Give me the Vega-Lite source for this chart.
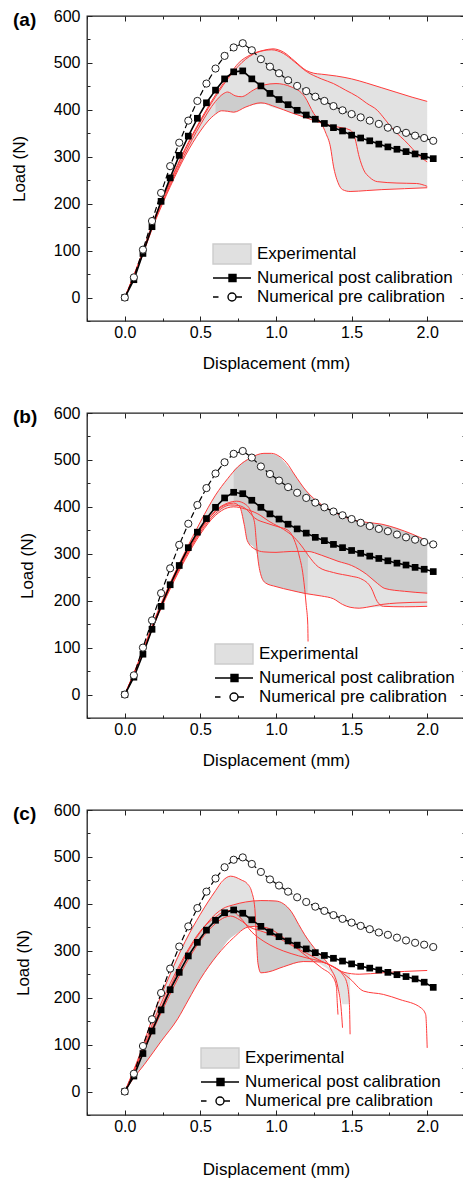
{
"$schema": "https://vega.github.io/schema/vega-lite/v6.json",
"padding": {"left": 10, "top": 7, "right": 0, "bottom": 0},
"spacing": 92,
"bounds": "flush",
"config": {
  "font": "Liberation Sans",
  "view": {"stroke": "#222", "strokeWidth": 1.3},
  "axis": {"labelFont": "Liberation Sans", "titleFont": "Liberation Sans", "labelFontSize": 16, "titleFontSize": 17, "titleFontWeight": "normal", "labelColor": "#000", "titleColor": "#000", "tickColor": "#222", "tickWidth": 1, "domain": false, "grid": false, "labelOverlap": false, "labelFlush": false},
  "legend": {"labelFont": "Liberation Sans"},
  "title": {"font": "Liberation Sans", "color": "#000"}
},
"datasets": {
"num": [
{"p":"a","s":"post","x":0,"y":0},{"p":"a","s":"post","x":0.06,"y":38},{"p":"a","s":"post","x":0.12,"y":94},{"p":"a","s":"post","x":0.18,"y":151},{"p":"a","s":"post","x":0.24,"y":205},{"p":"a","s":"post","x":0.3,"y":255},{"p":"a","s":"post","x":0.36,"y":303},{"p":"a","s":"post","x":0.42,"y":344},{"p":"a","s":"post","x":0.48,"y":382},{"p":"a","s":"post","x":0.54,"y":415},{"p":"a","s":"post","x":0.6,"y":442},{"p":"a","s":"post","x":0.66,"y":466},{"p":"a","s":"post","x":0.72,"y":481},{"p":"a","s":"post","x":0.78,"y":483},{"p":"a","s":"post","x":0.84,"y":466},{"p":"a","s":"post","x":0.9,"y":451},{"p":"a","s":"post","x":0.96,"y":435},{"p":"a","s":"post","x":1.02,"y":422},{"p":"a","s":"post","x":1.08,"y":411},{"p":"a","s":"post","x":1.14,"y":399},{"p":"a","s":"post","x":1.2,"y":389},{"p":"a","s":"post","x":1.26,"y":380},{"p":"a","s":"post","x":1.32,"y":371},{"p":"a","s":"post","x":1.38,"y":362},{"p":"a","s":"post","x":1.44,"y":355},{"p":"a","s":"post","x":1.5,"y":346},{"p":"a","s":"post","x":1.56,"y":340},{"p":"a","s":"post","x":1.62,"y":334},{"p":"a","s":"post","x":1.68,"y":327},{"p":"a","s":"post","x":1.74,"y":321},{"p":"a","s":"post","x":1.8,"y":316},{"p":"a","s":"post","x":1.86,"y":311},{"p":"a","s":"post","x":1.92,"y":306},{"p":"a","s":"post","x":1.98,"y":301},{"p":"a","s":"post","x":2.04,"y":296},
{"p":"a","s":"pre","x":0,"y":0},{"p":"a","s":"pre","x":0.06,"y":43},{"p":"a","s":"pre","x":0.12,"y":102},{"p":"a","s":"pre","x":0.18,"y":163},{"p":"a","s":"pre","x":0.24,"y":223},{"p":"a","s":"pre","x":0.3,"y":280},{"p":"a","s":"pre","x":0.36,"y":330},{"p":"a","s":"pre","x":0.42,"y":377},{"p":"a","s":"pre","x":0.48,"y":419},{"p":"a","s":"pre","x":0.54,"y":456},{"p":"a","s":"pre","x":0.6,"y":488},{"p":"a","s":"pre","x":0.66,"y":515},{"p":"a","s":"pre","x":0.72,"y":533},{"p":"a","s":"pre","x":0.78,"y":542},{"p":"a","s":"pre","x":0.84,"y":527},{"p":"a","s":"pre","x":0.9,"y":508},{"p":"a","s":"pre","x":0.96,"y":492},{"p":"a","s":"pre","x":1.02,"y":478},{"p":"a","s":"pre","x":1.08,"y":463},{"p":"a","s":"pre","x":1.14,"y":451},{"p":"a","s":"pre","x":1.2,"y":440},{"p":"a","s":"pre","x":1.26,"y":428},{"p":"a","s":"pre","x":1.32,"y":419},{"p":"a","s":"pre","x":1.38,"y":408},{"p":"a","s":"pre","x":1.44,"y":399},{"p":"a","s":"pre","x":1.5,"y":391},{"p":"a","s":"pre","x":1.56,"y":384},{"p":"a","s":"pre","x":1.62,"y":377},{"p":"a","s":"pre","x":1.68,"y":370},{"p":"a","s":"pre","x":1.74,"y":362},{"p":"a","s":"pre","x":1.8,"y":357},{"p":"a","s":"pre","x":1.86,"y":351},{"p":"a","s":"pre","x":1.92,"y":345},{"p":"a","s":"pre","x":1.98,"y":340},{"p":"a","s":"pre","x":2.04,"y":334},
{"p":"b","s":"post","x":0,"y":0},{"p":"b","s":"post","x":0.06,"y":37},{"p":"b","s":"post","x":0.12,"y":86},{"p":"b","s":"post","x":0.18,"y":139},{"p":"b","s":"post","x":0.24,"y":188},{"p":"b","s":"post","x":0.3,"y":234},{"p":"b","s":"post","x":0.36,"y":275},{"p":"b","s":"post","x":0.42,"y":313},{"p":"b","s":"post","x":0.48,"y":346},{"p":"b","s":"post","x":0.54,"y":375},{"p":"b","s":"post","x":0.6,"y":399},{"p":"b","s":"post","x":0.66,"y":419},{"p":"b","s":"post","x":0.72,"y":431},{"p":"b","s":"post","x":0.78,"y":428},{"p":"b","s":"post","x":0.84,"y":414},{"p":"b","s":"post","x":0.9,"y":399},{"p":"b","s":"post","x":0.96,"y":385},{"p":"b","s":"post","x":1.02,"y":374},{"p":"b","s":"post","x":1.08,"y":363},{"p":"b","s":"post","x":1.14,"y":353},{"p":"b","s":"post","x":1.2,"y":344},{"p":"b","s":"post","x":1.26,"y":335},{"p":"b","s":"post","x":1.32,"y":328},{"p":"b","s":"post","x":1.38,"y":320},{"p":"b","s":"post","x":1.44,"y":313},{"p":"b","s":"post","x":1.5,"y":307},{"p":"b","s":"post","x":1.56,"y":301},{"p":"b","s":"post","x":1.62,"y":295},{"p":"b","s":"post","x":1.68,"y":290},{"p":"b","s":"post","x":1.74,"y":285},{"p":"b","s":"post","x":1.8,"y":280},{"p":"b","s":"post","x":1.86,"y":276},{"p":"b","s":"post","x":1.92,"y":271},{"p":"b","s":"post","x":1.98,"y":267},{"p":"b","s":"post","x":2.04,"y":262},
{"p":"b","s":"pre","x":0,"y":0},{"p":"b","s":"pre","x":0.06,"y":41},{"p":"b","s":"pre","x":0.12,"y":100},{"p":"b","s":"pre","x":0.18,"y":158},{"p":"b","s":"pre","x":0.24,"y":216},{"p":"b","s":"pre","x":0.3,"y":269},{"p":"b","s":"pre","x":0.36,"y":319},{"p":"b","s":"pre","x":0.42,"y":364},{"p":"b","s":"pre","x":0.48,"y":404},{"p":"b","s":"pre","x":0.54,"y":440},{"p":"b","s":"pre","x":0.6,"y":471},{"p":"b","s":"pre","x":0.66,"y":495},{"p":"b","s":"pre","x":0.72,"y":513},{"p":"b","s":"pre","x":0.78,"y":519},{"p":"b","s":"pre","x":0.84,"y":505},{"p":"b","s":"pre","x":0.9,"y":486},{"p":"b","s":"pre","x":0.96,"y":470},{"p":"b","s":"pre","x":1.02,"y":456},{"p":"b","s":"pre","x":1.08,"y":442},{"p":"b","s":"pre","x":1.14,"y":430},{"p":"b","s":"pre","x":1.2,"y":419},{"p":"b","s":"pre","x":1.26,"y":409},{"p":"b","s":"pre","x":1.32,"y":399},{"p":"b","s":"pre","x":1.38,"y":390},{"p":"b","s":"pre","x":1.44,"y":382},{"p":"b","s":"pre","x":1.5,"y":374},{"p":"b","s":"pre","x":1.56,"y":366},{"p":"b","s":"pre","x":1.62,"y":359},{"p":"b","s":"pre","x":1.68,"y":353},{"p":"b","s":"pre","x":1.74,"y":348},{"p":"b","s":"pre","x":1.8,"y":341},{"p":"b","s":"pre","x":1.86,"y":335},{"p":"b","s":"pre","x":1.92,"y":330},{"p":"b","s":"pre","x":1.98,"y":325},{"p":"b","s":"pre","x":2.04,"y":320},
{"p":"c","s":"post","x":0,"y":0},{"p":"c","s":"post","x":0.06,"y":33},{"p":"c","s":"post","x":0.12,"y":81},{"p":"c","s":"post","x":0.18,"y":129},{"p":"c","s":"post","x":0.24,"y":174},{"p":"c","s":"post","x":0.3,"y":217},{"p":"c","s":"post","x":0.36,"y":254},{"p":"c","s":"post","x":0.42,"y":289},{"p":"c","s":"post","x":0.48,"y":318},{"p":"c","s":"post","x":0.54,"y":344},{"p":"c","s":"post","x":0.6,"y":365},{"p":"c","s":"post","x":0.66,"y":381},{"p":"c","s":"post","x":0.72,"y":387},{"p":"c","s":"post","x":0.78,"y":380},{"p":"c","s":"post","x":0.84,"y":366},{"p":"c","s":"post","x":0.9,"y":352},{"p":"c","s":"post","x":0.96,"y":340},{"p":"c","s":"post","x":1.02,"y":330},{"p":"c","s":"post","x":1.08,"y":321},{"p":"c","s":"post","x":1.14,"y":312},{"p":"c","s":"post","x":1.2,"y":304},{"p":"c","s":"post","x":1.26,"y":296},{"p":"c","s":"post","x":1.32,"y":290},{"p":"c","s":"post","x":1.38,"y":284},{"p":"c","s":"post","x":1.44,"y":278},{"p":"c","s":"post","x":1.5,"y":272},{"p":"c","s":"post","x":1.56,"y":267},{"p":"c","s":"post","x":1.62,"y":263},{"p":"c","s":"post","x":1.68,"y":259},{"p":"c","s":"post","x":1.74,"y":254},{"p":"c","s":"post","x":1.8,"y":249},{"p":"c","s":"post","x":1.86,"y":245},{"p":"c","s":"post","x":1.92,"y":240},{"p":"c","s":"post","x":1.98,"y":233},{"p":"c","s":"post","x":2.04,"y":222},
{"p":"c","s":"pre","x":0,"y":0},{"p":"c","s":"pre","x":0.06,"y":38},{"p":"c","s":"pre","x":0.12,"y":97},{"p":"c","s":"pre","x":0.18,"y":154},{"p":"c","s":"pre","x":0.24,"y":210},{"p":"c","s":"pre","x":0.3,"y":262},{"p":"c","s":"pre","x":0.36,"y":309},{"p":"c","s":"pre","x":0.42,"y":352},{"p":"c","s":"pre","x":0.48,"y":391},{"p":"c","s":"pre","x":0.54,"y":426},{"p":"c","s":"pre","x":0.6,"y":454},{"p":"c","s":"pre","x":0.66,"y":478},{"p":"c","s":"pre","x":0.72,"y":494},{"p":"c","s":"pre","x":0.78,"y":499},{"p":"c","s":"pre","x":0.84,"y":485},{"p":"c","s":"pre","x":0.9,"y":468},{"p":"c","s":"pre","x":0.96,"y":452},{"p":"c","s":"pre","x":1.02,"y":439},{"p":"c","s":"pre","x":1.08,"y":426},{"p":"c","s":"pre","x":1.14,"y":414},{"p":"c","s":"pre","x":1.2,"y":404},{"p":"c","s":"pre","x":1.26,"y":394},{"p":"c","s":"pre","x":1.32,"y":385},{"p":"c","s":"pre","x":1.38,"y":376},{"p":"c","s":"pre","x":1.44,"y":368},{"p":"c","s":"pre","x":1.5,"y":360},{"p":"c","s":"pre","x":1.56,"y":353},{"p":"c","s":"pre","x":1.62,"y":346},{"p":"c","s":"pre","x":1.68,"y":339},{"p":"c","s":"pre","x":1.74,"y":334},{"p":"c","s":"pre","x":1.8,"y":328},{"p":"c","s":"pre","x":1.86,"y":322},{"p":"c","s":"pre","x":1.92,"y":317},{"p":"c","s":"pre","x":1.98,"y":313},{"p":"c","s":"pre","x":2.04,"y":308}
],
"exp": [
{"p":"a","c":"1","x":0,"y":0},{"p":"a","c":"1","x":0.1,"y":82},{"p":"a","c":"1","x":0.2,"y":172},{"p":"a","c":"1","x":0.3,"y":248},{"p":"a","c":"1","x":0.4,"y":318},{"p":"a","c":"1","x":0.5,"y":378},{"p":"a","c":"1","x":0.6,"y":432},{"p":"a","c":"1","x":0.7,"y":478},{"p":"a","c":"1","x":0.75,"y":499},{"p":"a","c":"1","x":0.83,"y":517},{"p":"a","c":"1","x":0.92,"y":527},{"p":"a","c":"1","x":0.98,"y":530},{"p":"a","c":"1","x":1.05,"y":523},{"p":"a","c":"1","x":1.12,"y":505},{"p":"a","c":"1","x":1.2,"y":484},{"p":"a","c":"1","x":1.25,"y":478},{"p":"a","c":"1","x":1.3,"y":476},{"p":"a","c":"1","x":1.4,"y":472},{"p":"a","c":"1","x":1.5,"y":466},{"p":"a","c":"1","x":1.6,"y":457},{"p":"a","c":"1","x":1.7,"y":447},{"p":"a","c":"1","x":1.8,"y":437},{"p":"a","c":"1","x":1.9,"y":427},{"p":"a","c":"1","x":2.0,"y":418},
{"p":"a","c":"2","x":0,"y":0},{"p":"a","c":"2","x":0.1,"y":80},{"p":"a","c":"2","x":0.2,"y":170},{"p":"a","c":"2","x":0.3,"y":245},{"p":"a","c":"2","x":0.4,"y":315},{"p":"a","c":"2","x":0.5,"y":375},{"p":"a","c":"2","x":0.6,"y":428},{"p":"a","c":"2","x":0.7,"y":474},{"p":"a","c":"2","x":0.8,"y":508},{"p":"a","c":"2","x":0.9,"y":525},{"p":"a","c":"2","x":0.97,"y":528},{"p":"a","c":"2","x":1.05,"y":520},{"p":"a","c":"2","x":1.12,"y":503},{"p":"a","c":"2","x":1.2,"y":482},{"p":"a","c":"2","x":1.3,"y":466},{"p":"a","c":"2","x":1.38,"y":456},{"p":"a","c":"2","x":1.46,"y":442},{"p":"a","c":"2","x":1.54,"y":428},{"p":"a","c":"2","x":1.6,"y":414},{"p":"a","c":"2","x":1.67,"y":399},{"p":"a","c":"2","x":1.72,"y":380},{"p":"a","c":"2","x":1.76,"y":364},{"p":"a","c":"2","x":1.8,"y":350},{"p":"a","c":"2","x":1.85,"y":335},{"p":"a","c":"2","x":1.9,"y":318},{"p":"a","c":"2","x":1.93,"y":307},{"p":"a","c":"2","x":2.0,"y":289},
{"p":"a","c":"3","x":0,"y":0},{"p":"a","c":"3","x":0.1,"y":78},{"p":"a","c":"3","x":0.2,"y":165},{"p":"a","c":"3","x":0.3,"y":240},{"p":"a","c":"3","x":0.4,"y":308},{"p":"a","c":"3","x":0.5,"y":368},{"p":"a","c":"3","x":0.6,"y":418},{"p":"a","c":"3","x":0.65,"y":434},{"p":"a","c":"3","x":0.68,"y":438},{"p":"a","c":"3","x":0.73,"y":430},{"p":"a","c":"3","x":0.77,"y":428},{"p":"a","c":"3","x":0.85,"y":442},{"p":"a","c":"3","x":0.92,"y":453},{"p":"a","c":"3","x":1.0,"y":456},{"p":"a","c":"3","x":1.1,"y":449},{"p":"a","c":"3","x":1.19,"y":428},{"p":"a","c":"3","x":1.25,"y":392},{"p":"a","c":"3","x":1.3,"y":371},{"p":"a","c":"3","x":1.33,"y":350},{"p":"a","c":"3","x":1.36,"y":321},{"p":"a","c":"3","x":1.38,"y":280},{"p":"a","c":"3","x":1.41,"y":245},{"p":"a","c":"3","x":1.44,"y":230},{"p":"a","c":"3","x":1.49,"y":226},{"p":"a","c":"3","x":1.6,"y":228},{"p":"a","c":"3","x":1.7,"y":230},{"p":"a","c":"3","x":1.85,"y":232},{"p":"a","c":"3","x":2.0,"y":234},
{"p":"a","c":"4","x":0,"y":0},{"p":"a","c":"4","x":0.1,"y":76},{"p":"a","c":"4","x":0.2,"y":162},{"p":"a","c":"4","x":0.3,"y":236},{"p":"a","c":"4","x":0.4,"y":302},{"p":"a","c":"4","x":0.5,"y":355},{"p":"a","c":"4","x":0.55,"y":376},{"p":"a","c":"4","x":0.6,"y":391},{"p":"a","c":"4","x":0.64,"y":398},{"p":"a","c":"4","x":0.68,"y":397},{"p":"a","c":"4","x":0.72,"y":395},{"p":"a","c":"4","x":0.8,"y":406},{"p":"a","c":"4","x":0.9,"y":415},{"p":"a","c":"4","x":1.0,"y":406},{"p":"a","c":"4","x":1.1,"y":394},{"p":"a","c":"4","x":1.2,"y":383},{"p":"a","c":"4","x":1.3,"y":372},{"p":"a","c":"4","x":1.4,"y":364},{"p":"a","c":"4","x":1.49,"y":357},{"p":"a","c":"4","x":1.52,"y":342},{"p":"a","c":"4","x":1.55,"y":300},{"p":"a","c":"4","x":1.58,"y":272},{"p":"a","c":"4","x":1.62,"y":256},{"p":"a","c":"4","x":1.67,"y":247},{"p":"a","c":"4","x":1.8,"y":244},{"p":"a","c":"4","x":1.93,"y":243},{"p":"a","c":"4","x":2.0,"y":237},
{"p":"b","c":"1","x":0,"y":0},{"p":"b","c":"1","x":0.1,"y":78},{"p":"b","c":"1","x":0.2,"y":163},{"p":"b","c":"1","x":0.3,"y":238},{"p":"b","c":"1","x":0.4,"y":305},{"p":"b","c":"1","x":0.5,"y":368},{"p":"b","c":"1","x":0.6,"y":425},{"p":"b","c":"1","x":0.68,"y":460},{"p":"b","c":"1","x":0.75,"y":486},{"p":"b","c":"1","x":0.83,"y":504},{"p":"b","c":"1","x":0.92,"y":514},{"p":"b","c":"1","x":0.97,"y":514},{"p":"b","c":"1","x":1.02,"y":508},{"p":"b","c":"1","x":1.07,"y":494},{"p":"b","c":"1","x":1.12,"y":470},{"p":"b","c":"1","x":1.2,"y":434},{"p":"b","c":"1","x":1.3,"y":405},{"p":"b","c":"1","x":1.4,"y":386},{"p":"b","c":"1","x":1.5,"y":373},{"p":"b","c":"1","x":1.6,"y":367},{"p":"b","c":"1","x":1.7,"y":363},{"p":"b","c":"1","x":1.8,"y":354},{"p":"b","c":"1","x":1.9,"y":342},{"p":"b","c":"1","x":2.0,"y":328},
{"p":"b","c":"2","x":0,"y":0},{"p":"b","c":"2","x":0.1,"y":76},{"p":"b","c":"2","x":0.2,"y":160},{"p":"b","c":"2","x":0.3,"y":233},{"p":"b","c":"2","x":0.4,"y":298},{"p":"b","c":"2","x":0.5,"y":352},{"p":"b","c":"2","x":0.6,"y":390},{"p":"b","c":"2","x":0.67,"y":405},{"p":"b","c":"2","x":0.72,"y":408},{"p":"b","c":"2","x":0.76,"y":400},{"p":"b","c":"2","x":0.79,"y":362},{"p":"b","c":"2","x":0.81,"y":328},{"p":"b","c":"2","x":0.86,"y":310},{"p":"b","c":"2","x":0.92,"y":304},{"p":"b","c":"2","x":1.0,"y":303},{"p":"b","c":"2","x":1.1,"y":305},{"p":"b","c":"2","x":1.21,"y":305},{"p":"b","c":"2","x":1.3,"y":297},{"p":"b","c":"2","x":1.41,"y":284},{"p":"b","c":"2","x":1.5,"y":275},{"p":"b","c":"2","x":1.6,"y":256},{"p":"b","c":"2","x":1.67,"y":237},{"p":"b","c":"2","x":1.72,"y":226},{"p":"b","c":"2","x":1.85,"y":220},{"p":"b","c":"2","x":2.0,"y":216},
{"p":"b","c":"3","x":0,"y":0},{"p":"b","c":"3","x":0.1,"y":75},{"p":"b","c":"3","x":0.2,"y":158},{"p":"b","c":"3","x":0.3,"y":230},{"p":"b","c":"3","x":0.4,"y":295},{"p":"b","c":"3","x":0.5,"y":350},{"p":"b","c":"3","x":0.6,"y":392},{"p":"b","c":"3","x":0.68,"y":408},{"p":"b","c":"3","x":0.74,"y":412},{"p":"b","c":"3","x":0.8,"y":405},{"p":"b","c":"3","x":0.84,"y":385},{"p":"b","c":"3","x":0.86,"y":362},{"p":"b","c":"3","x":0.87,"y":325},{"p":"b","c":"3","x":0.88,"y":291},{"p":"b","c":"3","x":0.9,"y":255},{"p":"b","c":"3","x":0.93,"y":238},{"p":"b","c":"3","x":1.0,"y":230},{"p":"b","c":"3","x":1.1,"y":222},{"p":"b","c":"3","x":1.2,"y":215},{"p":"b","c":"3","x":1.3,"y":210},{"p":"b","c":"3","x":1.38,"y":204},{"p":"b","c":"3","x":1.44,"y":192},{"p":"b","c":"3","x":1.49,"y":186},{"p":"b","c":"3","x":1.55,"y":184},{"p":"b","c":"3","x":1.6,"y":186},{"p":"b","c":"3","x":1.7,"y":192},{"p":"b","c":"3","x":1.8,"y":195},{"p":"b","c":"3","x":2.0,"y":197},
{"p":"b","c":"4","x":0,"y":0},{"p":"b","c":"4","x":0.1,"y":74},{"p":"b","c":"4","x":0.2,"y":156},{"p":"b","c":"4","x":0.3,"y":228},{"p":"b","c":"4","x":0.4,"y":292},{"p":"b","c":"4","x":0.5,"y":346},{"p":"b","c":"4","x":0.6,"y":386},{"p":"b","c":"4","x":0.7,"y":404},{"p":"b","c":"4","x":0.75,"y":403},{"p":"b","c":"4","x":0.8,"y":396},{"p":"b","c":"4","x":0.86,"y":376},{"p":"b","c":"4","x":0.94,"y":365},{"p":"b","c":"4","x":1.02,"y":357},{"p":"b","c":"4","x":1.08,"y":350},{"p":"b","c":"4","x":1.12,"y":330},{"p":"b","c":"4","x":1.15,"y":300},{"p":"b","c":"4","x":1.18,"y":252},{"p":"b","c":"4","x":1.2,"y":190},{"p":"b","c":"4","x":1.21,"y":150},{"p":"b","c":"4","x":1.212,"y":113},
{"p":"b","c":"5","x":0,"y":0},{"p":"b","c":"5","x":0.1,"y":73},{"p":"b","c":"5","x":0.2,"y":154},{"p":"b","c":"5","x":0.3,"y":225},{"p":"b","c":"5","x":0.4,"y":288},{"p":"b","c":"5","x":0.5,"y":342},{"p":"b","c":"5","x":0.6,"y":382},{"p":"b","c":"5","x":0.68,"y":398},{"p":"b","c":"5","x":0.72,"y":400},{"p":"b","c":"5","x":0.8,"y":395},{"p":"b","c":"5","x":0.88,"y":385},{"p":"b","c":"5","x":0.96,"y":368},{"p":"b","c":"5","x":1.05,"y":352},{"p":"b","c":"5","x":1.12,"y":335},{"p":"b","c":"5","x":1.18,"y":312},{"p":"b","c":"5","x":1.21,"y":298},{"p":"b","c":"5","x":1.28,"y":272},{"p":"b","c":"5","x":1.38,"y":260},{"p":"b","c":"5","x":1.5,"y":252},{"p":"b","c":"5","x":1.56,"y":247},{"p":"b","c":"5","x":1.63,"y":227},{"p":"b","c":"5","x":1.67,"y":198},{"p":"b","c":"5","x":1.71,"y":188},{"p":"b","c":"5","x":1.85,"y":187},{"p":"b","c":"5","x":2.0,"y":188},
{"p":"c","c":"1","x":0,"y":0},{"p":"c","c":"1","x":0.1,"y":80},{"p":"c","c":"1","x":0.2,"y":172},{"p":"c","c":"1","x":0.3,"y":250},{"p":"c","c":"1","x":0.4,"y":320},{"p":"c","c":"1","x":0.5,"y":378},{"p":"c","c":"1","x":0.6,"y":428},{"p":"c","c":"1","x":0.65,"y":450},{"p":"c","c":"1","x":0.7,"y":459},{"p":"c","c":"1","x":0.77,"y":451},{"p":"c","c":"1","x":0.81,"y":443},{"p":"c","c":"1","x":0.84,"y":425},{"p":"c","c":"1","x":0.86,"y":390},{"p":"c","c":"1","x":0.87,"y":330},{"p":"c","c":"1","x":0.88,"y":275},{"p":"c","c":"1","x":0.9,"y":253},{"p":"c","c":"1","x":0.95,"y":255},{"p":"c","c":"1","x":1.05,"y":266},{"p":"c","c":"1","x":1.18,"y":277},{"p":"c","c":"1","x":1.3,"y":276},{"p":"c","c":"1","x":1.38,"y":266},{"p":"c","c":"1","x":1.45,"y":254},{"p":"c","c":"1","x":1.55,"y":250},{"p":"c","c":"1","x":1.7,"y":253},{"p":"c","c":"1","x":1.85,"y":256},{"p":"c","c":"1","x":2.0,"y":258},
{"p":"c","c":"2","x":0,"y":0},{"p":"c","c":"2","x":0.1,"y":72},{"p":"c","c":"2","x":0.2,"y":150},{"p":"c","c":"2","x":0.3,"y":222},{"p":"c","c":"2","x":0.4,"y":288},{"p":"c","c":"2","x":0.5,"y":340},{"p":"c","c":"2","x":0.6,"y":378},{"p":"c","c":"2","x":0.65,"y":390},{"p":"c","c":"2","x":0.72,"y":398},{"p":"c","c":"2","x":0.8,"y":404},{"p":"c","c":"2","x":0.9,"y":407},{"p":"c","c":"2","x":1.0,"y":406},{"p":"c","c":"2","x":1.05,"y":400},{"p":"c","c":"2","x":1.1,"y":384},{"p":"c","c":"2","x":1.15,"y":356},{"p":"c","c":"2","x":1.19,"y":334},{"p":"c","c":"2","x":1.27,"y":299},{"p":"c","c":"2","x":1.36,"y":263},{"p":"c","c":"2","x":1.41,"y":221},{"p":"c","c":"2","x":1.43,"y":180},{"p":"c","c":"2","x":1.44,"y":136},
{"p":"c","c":"3","x":0,"y":0},{"p":"c","c":"3","x":0.05,"y":25},{"p":"c","c":"3","x":0.13,"y":58},{"p":"c","c":"3","x":0.24,"y":107},{"p":"c","c":"3","x":0.35,"y":155},{"p":"c","c":"3","x":0.42,"y":195},{"p":"c","c":"3","x":0.5,"y":240},{"p":"c","c":"3","x":0.61,"y":290},{"p":"c","c":"3","x":0.72,"y":328},{"p":"c","c":"3","x":0.81,"y":350},{"p":"c","c":"3","x":0.86,"y":352},{"p":"c","c":"3","x":0.94,"y":349},{"p":"c","c":"3","x":1.05,"y":328},{"p":"c","c":"3","x":1.16,"y":299},{"p":"c","c":"3","x":1.3,"y":264},{"p":"c","c":"3","x":1.38,"y":242},{"p":"c","c":"3","x":1.4,"y":222},{"p":"c","c":"3","x":1.405,"y":190},{"p":"c","c":"3","x":1.41,"y":164},
{"p":"c","c":"4","x":0,"y":0},{"p":"c","c":"4","x":0.1,"y":68},{"p":"c","c":"4","x":0.2,"y":140},{"p":"c","c":"4","x":0.3,"y":208},{"p":"c","c":"4","x":0.4,"y":270},{"p":"c","c":"4","x":0.5,"y":322},{"p":"c","c":"4","x":0.6,"y":358},{"p":"c","c":"4","x":0.66,"y":371},{"p":"c","c":"4","x":0.7,"y":374},{"p":"c","c":"4","x":0.76,"y":366},{"p":"c","c":"4","x":0.83,"y":350},{"p":"c","c":"4","x":0.92,"y":340},{"p":"c","c":"4","x":1.0,"y":330},{"p":"c","c":"4","x":1.1,"y":312},{"p":"c","c":"4","x":1.2,"y":295},{"p":"c","c":"4","x":1.3,"y":278},{"p":"c","c":"4","x":1.38,"y":265},{"p":"c","c":"4","x":1.44,"y":250},{"p":"c","c":"4","x":1.47,"y":230},{"p":"c","c":"4","x":1.485,"y":190},{"p":"c","c":"4","x":1.49,"y":122},
{"p":"c","c":"5","x":0,"y":0},{"p":"c","c":"5","x":0.1,"y":75},{"p":"c","c":"5","x":0.2,"y":158},{"p":"c","c":"5","x":0.3,"y":230},{"p":"c","c":"5","x":0.4,"y":292},{"p":"c","c":"5","x":0.5,"y":342},{"p":"c","c":"5","x":0.6,"y":372},{"p":"c","c":"5","x":0.66,"y":384},{"p":"c","c":"5","x":0.7,"y":386},{"p":"c","c":"5","x":0.76,"y":372},{"p":"c","c":"5","x":0.84,"y":340},{"p":"c","c":"5","x":0.92,"y":320},{"p":"c","c":"5","x":1.0,"y":306},{"p":"c","c":"5","x":1.1,"y":294},{"p":"c","c":"5","x":1.2,"y":285},{"p":"c","c":"5","x":1.3,"y":277},{"p":"c","c":"5","x":1.4,"y":262},{"p":"c","c":"5","x":1.49,"y":240},{"p":"c","c":"5","x":1.58,"y":214},{"p":"c","c":"5","x":1.71,"y":207},{"p":"c","c":"5","x":1.82,"y":196},{"p":"c","c":"5","x":1.96,"y":178},{"p":"c","c":"5","x":1.99,"y":164},{"p":"c","c":"5","x":2.0,"y":93}
],
"band": [
{"p":"a","b":"light","x":0,"lo":0,"hi":0},{"p":"a","b":"light","x":0.1,"lo":76,"hi":82},{"p":"a","b":"light","x":0.2,"lo":162,"hi":172},{"p":"a","b":"light","x":0.3,"lo":236,"hi":248},{"p":"a","b":"light","x":0.4,"lo":302,"hi":318},{"p":"a","b":"light","x":0.5,"lo":355,"hi":378},{"p":"a","b":"light","x":0.6,"lo":391,"hi":432},{"p":"a","b":"light","x":0.64,"lo":398,"hi":452},{"p":"a","b":"light","x":0.7,"lo":396,"hi":478},{"p":"a","b":"light","x":0.75,"lo":400,"hi":499},{"p":"a","b":"light","x":0.83,"lo":409,"hi":517},{"p":"a","b":"light","x":0.9,"lo":415,"hi":525},{"p":"a","b":"light","x":0.98,"lo":405,"hi":530},{"p":"a","b":"light","x":1.05,"lo":400,"hi":523},{"p":"a","b":"light","x":1.12,"lo":392,"hi":505},{"p":"a","b":"light","x":1.2,"lo":383,"hi":484},{"p":"a","b":"light","x":1.25,"lo":377,"hi":478},{"p":"a","b":"light","x":1.3,"lo":371,"hi":476},{"p":"a","b":"light","x":1.33,"lo":350,"hi":475},{"p":"a","b":"light","x":1.36,"lo":321,"hi":474},{"p":"a","b":"light","x":1.38,"lo":280,"hi":473},{"p":"a","b":"light","x":1.41,"lo":245,"hi":472},{"p":"a","b":"light","x":1.44,"lo":230,"hi":470},{"p":"a","b":"light","x":1.49,"lo":226,"hi":467},{"p":"a","b":"light","x":1.6,"lo":228,"hi":457},{"p":"a","b":"light","x":1.7,"lo":230,"hi":447},{"p":"a","b":"light","x":1.8,"lo":232,"hi":437},{"p":"a","b":"light","x":1.9,"lo":233,"hi":427},{"p":"a","b":"light","x":2.0,"lo":234,"hi":418},
{"p":"a","b":"dark","x":0.6,"lo":391,"hi":418},{"p":"a","b":"dark","x":0.64,"lo":398,"hi":432},{"p":"a","b":"dark","x":0.68,"lo":397,"hi":438},{"p":"a","b":"dark","x":0.72,"lo":395,"hi":431},{"p":"a","b":"dark","x":0.77,"lo":402,"hi":428},{"p":"a","b":"dark","x":0.85,"lo":411,"hi":442},{"p":"a","b":"dark","x":0.92,"lo":413,"hi":453},{"p":"a","b":"dark","x":1.0,"lo":406,"hi":456},{"p":"a","b":"dark","x":1.1,"lo":394,"hi":449},{"p":"a","b":"dark","x":1.19,"lo":384,"hi":428},{"p":"a","b":"dark","x":1.25,"lo":377,"hi":392},{"p":"a","b":"dark","x":1.3,"lo":371,"hi":371},
{"p":"b","b":"light","x":0,"lo":0,"hi":0},{"p":"b","b":"light","x":0.1,"lo":73,"hi":78},{"p":"b","b":"light","x":0.2,"lo":154,"hi":163},{"p":"b","b":"light","x":0.3,"lo":225,"hi":238},{"p":"b","b":"light","x":0.4,"lo":288,"hi":305},{"p":"b","b":"light","x":0.5,"lo":342,"hi":368},{"p":"b","b":"light","x":0.6,"lo":382,"hi":425},{"p":"b","b":"light","x":0.68,"lo":398,"hi":460},{"p":"b","b":"light","x":0.75,"lo":400,"hi":486},{"p":"b","b":"light","x":0.8,"lo":395,"hi":500},{"p":"b","b":"light","x":0.84,"lo":385,"hi":506},{"p":"b","b":"light","x":0.87,"lo":325,"hi":510},{"p":"b","b":"light","x":0.88,"lo":291,"hi":511},{"p":"b","b":"light","x":0.9,"lo":255,"hi":513},{"p":"b","b":"light","x":0.93,"lo":238,"hi":514},{"p":"b","b":"light","x":1.0,"lo":230,"hi":510},{"p":"b","b":"light","x":1.1,"lo":222,"hi":478},{"p":"b","b":"light","x":1.2,"lo":215,"hi":434},{"p":"b","b":"light","x":1.3,"lo":210,"hi":405},{"p":"b","b":"light","x":1.38,"lo":204,"hi":390},{"p":"b","b":"light","x":1.44,"lo":192,"hi":380},{"p":"b","b":"light","x":1.49,"lo":186,"hi":374},{"p":"b","b":"light","x":1.55,"lo":184,"hi":370},{"p":"b","b":"light","x":1.6,"lo":186,"hi":367},{"p":"b","b":"light","x":1.67,"lo":186,"hi":364},{"p":"b","b":"light","x":1.71,"lo":188,"hi":362},{"p":"b","b":"light","x":1.8,"lo":187,"hi":354},{"p":"b","b":"light","x":1.9,"lo":187,"hi":342},{"p":"b","b":"light","x":2.0,"lo":188,"hi":328},
{"p":"b","b":"dark","x":0.72,"lo":408,"hi":478},{"p":"b","b":"dark","x":0.76,"lo":400,"hi":489},{"p":"b","b":"dark","x":0.79,"lo":362,"hi":496},{"p":"b","b":"dark","x":0.81,"lo":328,"hi":500},{"p":"b","b":"dark","x":0.86,"lo":310,"hi":508},{"p":"b","b":"dark","x":0.88,"lo":291,"hi":511},{"p":"b","b":"dark","x":0.9,"lo":255,"hi":513},{"p":"b","b":"dark","x":0.93,"lo":238,"hi":514},{"p":"b","b":"dark","x":1.0,"lo":230,"hi":510},{"p":"b","b":"dark","x":1.1,"lo":222,"hi":478},{"p":"b","b":"dark","x":1.2,"lo":215,"hi":434},{"p":"b","b":"dark","x":1.21,"lo":215,"hi":431},{"p":"b","b":"dark","x":1.212,"lo":305,"hi":430},{"p":"b","b":"dark","x":1.3,"lo":297,"hi":405},{"p":"b","b":"dark","x":1.41,"lo":284,"hi":384},{"p":"b","b":"dark","x":1.5,"lo":275,"hi":373},{"p":"b","b":"dark","x":1.6,"lo":256,"hi":367},{"p":"b","b":"dark","x":1.67,"lo":237,"hi":364},{"p":"b","b":"dark","x":1.72,"lo":226,"hi":362},{"p":"b","b":"dark","x":1.85,"lo":220,"hi":348},{"p":"b","b":"dark","x":2.0,"lo":216,"hi":328},
{"p":"c","b":"light","x":0,"lo":0,"hi":0},{"p":"c","b":"light","x":0.05,"lo":25,"hi":40},{"p":"c","b":"light","x":0.13,"lo":58,"hi":105},{"p":"c","b":"light","x":0.24,"lo":107,"hi":205},{"p":"c","b":"light","x":0.35,"lo":155,"hi":290},{"p":"c","b":"light","x":0.42,"lo":195,"hi":335},{"p":"c","b":"light","x":0.5,"lo":240,"hi":378},{"p":"c","b":"light","x":0.61,"lo":290,"hi":432},{"p":"c","b":"light","x":0.7,"lo":328,"hi":459},{"p":"c","b":"light","x":0.77,"lo":343,"hi":451},{"p":"c","b":"light","x":0.81,"lo":350,"hi":443},{"p":"c","b":"light","x":0.84,"lo":351,"hi":425},{"p":"c","b":"light","x":0.86,"lo":352,"hi":406},{"p":"c","b":"light","x":0.87,"lo":330,"hi":406},{"p":"c","b":"light","x":0.88,"lo":275,"hi":406},{"p":"c","b":"light","x":0.9,"lo":253,"hi":407},{"p":"c","b":"light","x":0.95,"lo":255,"hi":407},{"p":"c","b":"light","x":1.05,"lo":266,"hi":400},{"p":"c","b":"light","x":1.1,"lo":271,"hi":384},{"p":"c","b":"light","x":1.18,"lo":277,"hi":340},{"p":"c","b":"light","x":1.27,"lo":276,"hi":299},{"p":"c","b":"light","x":1.3,"lo":270,"hi":288},{"p":"c","b":"light","x":1.36,"lo":255,"hi":263},{"p":"c","b":"light","x":1.38,"lo":245,"hi":262},{"p":"c","b":"light","x":1.4,"lo":222,"hi":260},{"p":"c","b":"light","x":1.43,"lo":200,"hi":257},{"p":"c","b":"light","x":1.44,"lo":186,"hi":256},{"p":"c","b":"light","x":1.49,"lo":186,"hi":250},
{"p":"c","b":"dark","x":0.05,"lo":25,"hi":38},{"p":"c","b":"dark","x":0.13,"lo":58,"hi":98},{"p":"c","b":"dark","x":0.24,"lo":107,"hi":175},{"p":"c","b":"dark","x":0.35,"lo":155,"hi":262},{"p":"c","b":"dark","x":0.42,"lo":195,"hi":300},{"p":"c","b":"dark","x":0.5,"lo":240,"hi":342},{"p":"c","b":"dark","x":0.61,"lo":290,"hi":374},{"p":"c","b":"dark","x":0.7,"lo":328,"hi":386},{"p":"c","b":"dark","x":0.72,"lo":332,"hi":398},{"p":"c","b":"dark","x":0.81,"lo":350,"hi":404},{"p":"c","b":"dark","x":0.86,"lo":352,"hi":406},{"p":"c","b":"dark","x":0.87,"lo":330,"hi":406},{"p":"c","b":"dark","x":0.88,"lo":275,"hi":406},{"p":"c","b":"dark","x":0.9,"lo":253,"hi":407},{"p":"c","b":"dark","x":0.95,"lo":255,"hi":407},{"p":"c","b":"dark","x":1.0,"lo":260,"hi":406},{"p":"c","b":"dark","x":1.05,"lo":266,"hi":400},{"p":"c","b":"dark","x":1.1,"lo":271,"hi":384},{"p":"c","b":"dark","x":1.15,"lo":275,"hi":356},{"p":"c","b":"dark","x":1.19,"lo":277,"hi":334},{"p":"c","b":"dark","x":1.27,"lo":276,"hi":299},{"p":"c","b":"dark","x":1.3,"lo":276,"hi":288},{"p":"c","b":"dark","x":1.36,"lo":268,"hi":268}
]
},
"resolve": {"scale": {"shape": "independent", "fill": "independent", "stroke": "independent"}},
"vconcat": [
{
"width": 378, "height": 305,
"title": {"text": "(a)", "anchor": "start", "frame": "group", "fontSize": 19, "fontWeight": "bold", "dx": -74, "dy": 22, "offset": 0, "baseline": "top"},
"layer": [
 {"layer": [
  {"data": {"name": "band"}, "transform": [{"filter": "datum.p == 'a' && datum.b == 'light'"}], "mark": {"type": "area", "fill": "#e2e2e2", "interpolate": "monotone"},
   "encoding": {"x": {"field": "x", "type": "quantitative", "scale": {"domain": [-0.25, 2.25], "nice": false, "zero": false},
      "axis": {"orient": "bottom", "title": "Displacement (mm)", "values": [0, 0.5, 1, 1.5, 2], "format": ".1f", "tickSize": -5, "labelPadding": 8, "titlePadding": 15}},
    "y": {"field": "lo", "type": "quantitative", "scale": {"domain": [-50, 600], "nice": false, "zero": false},
      "axis": {"orient": "left", "title": "Load (N)", "values": [0,100,200,300,400,500,600], "tickSize": -5, "labelPadding": 12, "titlePadding": 24.5}},
    "y2": {"field": "hi"}}},
  {"data": {"name": "band"}, "transform": [{"filter": "datum.p == 'a' && datum.b == 'dark'"}], "mark": {"type": "area", "fill": "#cdcdcd", "interpolate": "monotone"},
   "encoding": {"x": {"field": "x", "type": "quantitative"}, "y": {"field": "lo", "type": "quantitative"}, "y2": {"field": "hi"}}},
  {"data": {"name": "exp"}, "transform": [{"filter": "datum.p == 'a'"}], "mark": {"type": "line", "stroke": "#ff3b3b", "strokeWidth": 1, "interpolate": "monotone"},
   "encoding": {"x": {"field": "x", "type": "quantitative"}, "y": {"field": "y", "type": "quantitative"}, "detail": {"field": "c"}}},
  {"data": {"name": "num"}, "transform": [{"filter": "datum.p == 'a' && datum.s == 'pre'"}], "mark": {"type": "line", "stroke": "#000", "strokeWidth": 1.2, "strokeDash": [6, 3]},
   "encoding": {"x": {"field": "x", "type": "quantitative"}, "y": {"field": "y", "type": "quantitative"}}},
  {"data": {"name": "num"}, "transform": [{"filter": "datum.p == 'a' && datum.s == 'post'"}], "mark": {"type": "line", "stroke": "#000", "strokeWidth": 1.6},
   "encoding": {"x": {"field": "x", "type": "quantitative"}, "y": {"field": "y", "type": "quantitative"}}},
  {"data": {"name": "num"}, "transform": [{"filter": "datum.p == 'a' && datum.s == 'post'"}], "mark": {"type": "point", "shape": "square", "filled": true, "fill": "#000", "size": 45, "opacity": 1},
   "encoding": {"x": {"field": "x", "type": "quantitative"}, "y": {"field": "y", "type": "quantitative"}}},
  {"data": {"name": "num"}, "transform": [{"filter": "datum.p == 'a' && datum.s == 'pre'"}], "mark": {"type": "point", "shape": "circle", "filled": true, "fill": "#fff", "stroke": "#222", "strokeWidth": 1, "size": 52, "opacity": 1},
   "encoding": {"x": {"field": "x", "type": "quantitative"}, "y": {"field": "y", "type": "quantitative"}}},
  {"data": {"name": "num"}, "transform": [{"filter": "false"}], "mark": {"type": "point", "filled": true, "opacity": 1, "size": 400},
   "encoding": {"x": {"field": "x", "type": "quantitative"}, "y": {"field": "y", "type": "quantitative"},
    "shape": {"field": "s", "type": "nominal", "scale": {"domain": ["Experimental", "Numerical post calibration", "Numerical pre calibration"], "range": ["M-1.1,-1H2.7V1H-1.1Z", "M-1.1,0H2.7M0.5,-0.35H1.2V0.35H0.5Z", "M-1.1,0H-0.55M0.4,0A0.4,0.4 0 1,1 1.2,0A0.4,0.4 0 1,1 0.4,0ZM1.2,0H1.8"]},
      "legend": {"orient": "none", "legendX": 126, "legendY": 227, "title": null, "symbolSize": 400, "symbolStrokeWidth": 1.4, "symbolOpacity": 1, "labelFontSize": 17, "labelColor": "#000", "labelOffset": 22, "labelLimit": 300, "rowPadding": 0, "padding": 0, "symbolOffset": 0}},
    "fill": {"field": "s", "type": "nominal", "scale": {"domain": ["Experimental", "Numerical post calibration", "Numerical pre calibration"], "range": ["#e0e0e0", "#000", "#fff"]}},
    "stroke": {"field": "s", "type": "nominal", "scale": {"domain": ["Experimental", "Numerical post calibration", "Numerical pre calibration"], "range": ["#cccccc", "#000", "#000"]}}}}
 ]},
 {"data": {"name": "num"}, "transform": [{"filter": "false"}], "mark": {"type": "point", "opacity": 0},
  "encoding": {"x": {"field": "x", "type": "quantitative", "axis": {"orient": "top", "labels": false, "title": null, "values": [0, 0.5, 1, 1.5, 2], "tickSize": -5}},
   "y": {"field": "y", "type": "quantitative", "axis": {"orient": "right", "labels": false, "title": null, "values": [0,100,200,300,400,500,600], "tickSize": -5}}}},
 {"data": {"name": "num"}, "transform": [{"filter": "false"}], "mark": {"type": "point", "opacity": 0},
  "encoding": {"x": {"field": "x", "type": "quantitative", "axis": {"orient": "bottom", "labels": false, "title": null, "values": [-0.25, 0.25, 0.75, 1.25, 1.75, 2.25], "tickSize": -3}},
   "y": {"field": "y", "type": "quantitative", "axis": {"orient": "left", "labels": false, "title": null, "values": [-50,50,150,250,350,450,550], "tickSize": -3}}}},
 {"data": {"name": "num"}, "transform": [{"filter": "false"}], "mark": {"type": "point", "opacity": 0},
  "encoding": {"x": {"field": "x", "type": "quantitative", "axis": {"orient": "top", "labels": false, "title": null, "values": [-0.25, 0.25, 0.75, 1.25, 1.75, 2.25], "tickSize": -3}},
   "y": {"field": "y", "type": "quantitative", "axis": {"orient": "right", "labels": false, "title": null, "values": [-50,50,150,250,350,450,550], "tickSize": -3}}}}
],
"resolve": {"axis": {"x": "independent", "y": "independent"}}
},
{
"width": 378, "height": 305,
"title": {"text": "(b)", "anchor": "start", "frame": "group", "fontSize": 19, "fontWeight": "bold", "dx": -74, "dy": 22, "offset": 0, "baseline": "top"},
"layer": [
 {"layer": [
  {"data": {"name": "band"}, "transform": [{"filter": "datum.p == 'b' && datum.b == 'light'"}], "mark": {"type": "area", "fill": "#e2e2e2", "interpolate": "monotone"},
   "encoding": {"x": {"field": "x", "type": "quantitative", "scale": {"domain": [-0.25, 2.25], "nice": false, "zero": false},
      "axis": {"orient": "bottom", "title": "Displacement (mm)", "values": [0, 0.5, 1, 1.5, 2], "format": ".1f", "tickSize": -5, "labelPadding": 8, "titlePadding": 15}},
    "y": {"field": "lo", "type": "quantitative", "scale": {"domain": [-50, 600], "nice": false, "zero": false},
      "axis": {"orient": "left", "title": "Load (N)", "values": [0,100,200,300,400,500,600], "tickSize": -5, "labelPadding": 12, "titlePadding": 16.5}},
    "y2": {"field": "hi"}}},
  {"data": {"name": "band"}, "transform": [{"filter": "datum.p == 'b' && datum.b == 'dark'"}], "mark": {"type": "area", "fill": "#cdcdcd", "interpolate": "monotone"},
   "encoding": {"x": {"field": "x", "type": "quantitative"}, "y": {"field": "lo", "type": "quantitative"}, "y2": {"field": "hi"}}},
  {"data": {"name": "exp"}, "transform": [{"filter": "datum.p == 'b'"}], "mark": {"type": "line", "stroke": "#ff3b3b", "strokeWidth": 1, "interpolate": "monotone"},
   "encoding": {"x": {"field": "x", "type": "quantitative"}, "y": {"field": "y", "type": "quantitative"}, "detail": {"field": "c"}}},
  {"data": {"name": "num"}, "transform": [{"filter": "datum.p == 'b' && datum.s == 'pre'"}], "mark": {"type": "line", "stroke": "#000", "strokeWidth": 1.2, "strokeDash": [6, 3]},
   "encoding": {"x": {"field": "x", "type": "quantitative"}, "y": {"field": "y", "type": "quantitative"}}},
  {"data": {"name": "num"}, "transform": [{"filter": "datum.p == 'b' && datum.s == 'post'"}], "mark": {"type": "line", "stroke": "#000", "strokeWidth": 1.6},
   "encoding": {"x": {"field": "x", "type": "quantitative"}, "y": {"field": "y", "type": "quantitative"}}},
  {"data": {"name": "num"}, "transform": [{"filter": "datum.p == 'b' && datum.s == 'post'"}], "mark": {"type": "point", "shape": "square", "filled": true, "fill": "#000", "size": 45, "opacity": 1},
   "encoding": {"x": {"field": "x", "type": "quantitative"}, "y": {"field": "y", "type": "quantitative"}}},
  {"data": {"name": "num"}, "transform": [{"filter": "datum.p == 'b' && datum.s == 'pre'"}], "mark": {"type": "point", "shape": "circle", "filled": true, "fill": "#fff", "stroke": "#222", "strokeWidth": 1, "size": 52, "opacity": 1},
   "encoding": {"x": {"field": "x", "type": "quantitative"}, "y": {"field": "y", "type": "quantitative"}}},
  {"data": {"name": "num"}, "transform": [{"filter": "false"}], "mark": {"type": "point", "filled": true, "opacity": 1, "size": 400},
   "encoding": {"x": {"field": "x", "type": "quantitative"}, "y": {"field": "y", "type": "quantitative"},
    "shape": {"field": "s", "type": "nominal", "scale": {"domain": ["Experimental", "Numerical post calibration", "Numerical pre calibration"], "range": ["M-1.1,-1H2.7V1H-1.1Z", "M-1.1,0H2.7M0.5,-0.35H1.2V0.35H0.5Z", "M-1.1,0H-0.55M0.4,0A0.4,0.4 0 1,1 1.2,0A0.4,0.4 0 1,1 0.4,0ZM1.2,0H1.8"]},
      "legend": {"orient": "none", "legendX": 128, "legendY": 230, "title": null, "symbolSize": 400, "symbolStrokeWidth": 1.4, "symbolOpacity": 1, "labelFontSize": 17, "labelColor": "#000", "labelOffset": 22, "labelLimit": 300, "rowPadding": 0, "padding": 0, "symbolOffset": 0}},
    "fill": {"field": "s", "type": "nominal", "scale": {"domain": ["Experimental", "Numerical post calibration", "Numerical pre calibration"], "range": ["#e0e0e0", "#000", "#fff"]}},
    "stroke": {"field": "s", "type": "nominal", "scale": {"domain": ["Experimental", "Numerical post calibration", "Numerical pre calibration"], "range": ["#cccccc", "#000", "#000"]}}}}
 ]},
 {"data": {"name": "num"}, "transform": [{"filter": "false"}], "mark": {"type": "point", "opacity": 0},
  "encoding": {"x": {"field": "x", "type": "quantitative", "axis": {"orient": "top", "labels": false, "title": null, "values": [0, 0.5, 1, 1.5, 2], "tickSize": -5}},
   "y": {"field": "y", "type": "quantitative", "axis": {"orient": "right", "labels": false, "title": null, "values": [0,100,200,300,400,500,600], "tickSize": -5}}}},
 {"data": {"name": "num"}, "transform": [{"filter": "false"}], "mark": {"type": "point", "opacity": 0},
  "encoding": {"x": {"field": "x", "type": "quantitative", "axis": {"orient": "bottom", "labels": false, "title": null, "values": [-0.25, 0.25, 0.75, 1.25, 1.75, 2.25], "tickSize": -3}},
   "y": {"field": "y", "type": "quantitative", "axis": {"orient": "left", "labels": false, "title": null, "values": [-50,50,150,250,350,450,550], "tickSize": -3}}}},
 {"data": {"name": "num"}, "transform": [{"filter": "false"}], "mark": {"type": "point", "opacity": 0},
  "encoding": {"x": {"field": "x", "type": "quantitative", "axis": {"orient": "top", "labels": false, "title": null, "values": [-0.25, 0.25, 0.75, 1.25, 1.75, 2.25], "tickSize": -3}},
   "y": {"field": "y", "type": "quantitative", "axis": {"orient": "right", "labels": false, "title": null, "values": [-50,50,150,250,350,450,550], "tickSize": -3}}}}
],
"resolve": {"axis": {"x": "independent", "y": "independent"}}
},
{
"width": 378, "height": 305,
"title": {"text": "(c)", "anchor": "start", "frame": "group", "fontSize": 19, "fontWeight": "bold", "dx": -74, "dy": 22, "offset": 0, "baseline": "top"},
"layer": [
 {"layer": [
  {"data": {"name": "band"}, "transform": [{"filter": "datum.p == 'c' && datum.b == 'light'"}], "mark": {"type": "area", "fill": "#e2e2e2", "interpolate": "monotone"},
   "encoding": {"x": {"field": "x", "type": "quantitative", "scale": {"domain": [-0.25, 2.25], "nice": false, "zero": false},
      "axis": {"orient": "bottom", "title": "Displacement (mm)", "values": [0, 0.5, 1, 1.5, 2], "format": ".1f", "tickSize": -5, "labelPadding": 8, "titlePadding": 27}},
    "y": {"field": "lo", "type": "quantitative", "scale": {"domain": [-50, 600], "nice": false, "zero": false},
      "axis": {"orient": "left", "title": "Load (N)", "values": [0,100,200,300,400,500,600], "tickSize": -5, "labelPadding": 12, "titlePadding": 21}},
    "y2": {"field": "hi"}}},
  {"data": {"name": "band"}, "transform": [{"filter": "datum.p == 'c' && datum.b == 'dark'"}], "mark": {"type": "area", "fill": "#cdcdcd", "interpolate": "monotone"},
   "encoding": {"x": {"field": "x", "type": "quantitative"}, "y": {"field": "lo", "type": "quantitative"}, "y2": {"field": "hi"}}},
  {"data": {"name": "exp"}, "transform": [{"filter": "datum.p == 'c'"}], "mark": {"type": "line", "stroke": "#ff3b3b", "strokeWidth": 1, "interpolate": "monotone"},
   "encoding": {"x": {"field": "x", "type": "quantitative"}, "y": {"field": "y", "type": "quantitative"}, "detail": {"field": "c"}}},
  {"data": {"name": "num"}, "transform": [{"filter": "datum.p == 'c' && datum.s == 'pre'"}], "mark": {"type": "line", "stroke": "#000", "strokeWidth": 1.2, "strokeDash": [6, 3]},
   "encoding": {"x": {"field": "x", "type": "quantitative"}, "y": {"field": "y", "type": "quantitative"}}},
  {"data": {"name": "num"}, "transform": [{"filter": "datum.p == 'c' && datum.s == 'post'"}], "mark": {"type": "line", "stroke": "#000", "strokeWidth": 1.6},
   "encoding": {"x": {"field": "x", "type": "quantitative"}, "y": {"field": "y", "type": "quantitative"}}},
  {"data": {"name": "num"}, "transform": [{"filter": "datum.p == 'c' && datum.s == 'post'"}], "mark": {"type": "point", "shape": "square", "filled": true, "fill": "#000", "size": 45, "opacity": 1},
   "encoding": {"x": {"field": "x", "type": "quantitative"}, "y": {"field": "y", "type": "quantitative"}}},
  {"data": {"name": "num"}, "transform": [{"filter": "datum.p == 'c' && datum.s == 'pre'"}], "mark": {"type": "point", "shape": "circle", "filled": true, "fill": "#fff", "stroke": "#222", "strokeWidth": 1, "size": 52, "opacity": 1},
   "encoding": {"x": {"field": "x", "type": "quantitative"}, "y": {"field": "y", "type": "quantitative"}}},
  {"data": {"name": "num"}, "transform": [{"filter": "false"}], "mark": {"type": "point", "filled": true, "opacity": 1, "size": 400},
   "encoding": {"x": {"field": "x", "type": "quantitative"}, "y": {"field": "y", "type": "quantitative"},
    "shape": {"field": "s", "type": "nominal", "scale": {"domain": ["Experimental", "Numerical post calibration", "Numerical pre calibration"], "range": ["M-1.1,-1H2.7V1H-1.1Z", "M-1.1,0H2.7M0.5,-0.35H1.2V0.35H0.5Z", "M-1.1,0H-0.55M0.4,0A0.4,0.4 0 1,1 1.2,0A0.4,0.4 0 1,1 0.4,0ZM1.2,0H1.8"]},
      "legend": {"orient": "none", "legendX": 114, "legendY": 237, "title": null, "symbolSize": 400, "symbolStrokeWidth": 1.4, "symbolOpacity": 1, "labelFontSize": 17, "labelColor": "#000", "labelOffset": 22, "labelLimit": 300, "rowPadding": 0, "padding": 0, "symbolOffset": 0}},
    "fill": {"field": "s", "type": "nominal", "scale": {"domain": ["Experimental", "Numerical post calibration", "Numerical pre calibration"], "range": ["#e0e0e0", "#000", "#fff"]}},
    "stroke": {"field": "s", "type": "nominal", "scale": {"domain": ["Experimental", "Numerical post calibration", "Numerical pre calibration"], "range": ["#cccccc", "#000", "#000"]}}}}
 ]},
 {"data": {"name": "num"}, "transform": [{"filter": "false"}], "mark": {"type": "point", "opacity": 0},
  "encoding": {"x": {"field": "x", "type": "quantitative", "axis": {"orient": "top", "labels": false, "title": null, "values": [0, 0.5, 1, 1.5, 2], "tickSize": -5}},
   "y": {"field": "y", "type": "quantitative", "axis": {"orient": "right", "labels": false, "title": null, "values": [0,100,200,300,400,500,600], "tickSize": -5}}}},
 {"data": {"name": "num"}, "transform": [{"filter": "false"}], "mark": {"type": "point", "opacity": 0},
  "encoding": {"x": {"field": "x", "type": "quantitative", "axis": {"orient": "bottom", "labels": false, "title": null, "values": [-0.25, 0.25, 0.75, 1.25, 1.75, 2.25], "tickSize": -3}},
   "y": {"field": "y", "type": "quantitative", "axis": {"orient": "left", "labels": false, "title": null, "values": [-50,50,150,250,350,450,550], "tickSize": -3}}}},
 {"data": {"name": "num"}, "transform": [{"filter": "false"}], "mark": {"type": "point", "opacity": 0},
  "encoding": {"x": {"field": "x", "type": "quantitative", "axis": {"orient": "top", "labels": false, "title": null, "values": [-0.25, 0.25, 0.75, 1.25, 1.75, 2.25], "tickSize": -3}},
   "y": {"field": "y", "type": "quantitative", "axis": {"orient": "right", "labels": false, "title": null, "values": [-50,50,150,250,350,450,550], "tickSize": -3}}}}
],
"resolve": {"axis": {"x": "independent", "y": "independent"}}
}
]
}
